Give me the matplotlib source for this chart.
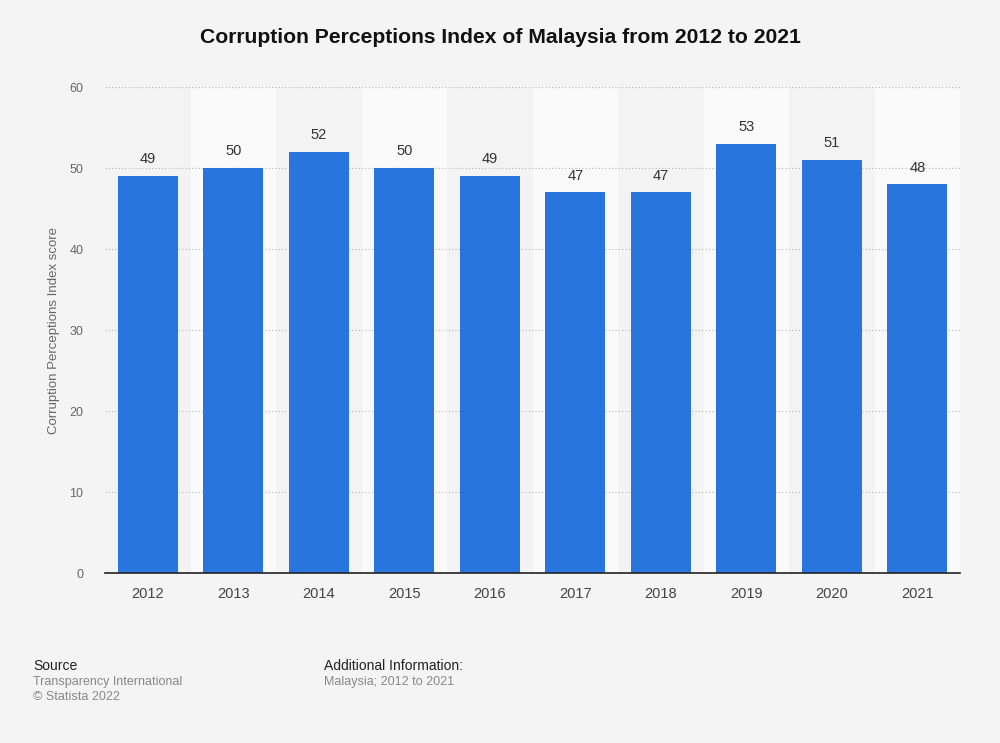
import matplotlib.pyplot as plt

# data
years = ['2012', '2013', '2014', '2015', '2016', '2017', '2018', '2019', '2020', '2021']
scores = [49, 50, 52, 50, 49, 47, 47, 53, 51, 48]
y_ticks = [0, 10, 20, 30, 40, 50, 60]

plt.rcParams['font.family'] = ['Liberation Sans', 'DejaVu Sans']

bg = '#f4f4f4'
fig = plt.figure(figsize=(10, 7.43), dpi=100)
fig.patch.set_facecolor(bg)
ax = fig.add_axes([0.105, 0.2288, 0.855, 0.654])
ax.set_facecolor(bg)

x = list(range(len(years)))

# alternating column bands
for i in x:
    band_col = '#fafafa' if i % 2 == 1 else '#f3f3f3'
    ax.axvspan(i - 0.5, i + 0.5, color=band_col, zorder=0, lw=0)

ax.bar(x, scores, width=0.7, color='#2876dd', zorder=3)

for i, v in zip(x, scores):
    ax.text(i, v + 1.2, str(v), ha='center', va='bottom', fontsize=10.5, color='#333333', zorder=4)

ax.set_xlim(-0.5, len(years) - 0.5)
ax.set_ylim(0, 60)
ax.set_yticks(y_ticks)
ax.set_xticks(x)
ax.set_xticklabels(years)
ax.tick_params(axis='x', length=0, labelsize=10.5, labelcolor='#444444', pad=10)
ax.tick_params(axis='y', length=0, labelsize=9, labelcolor='#666666', pad=15.5)

ax.yaxis.grid(True, linestyle=(0, (1, 2)), color='#b8b8b8', lw=0.8, zorder=1)
for s in ['top', 'right', 'left']:
    ax.spines[s].set_visible(False)
ax.spines['bottom'].set_color('#222222')
ax.spines['bottom'].set_linewidth(1.2)
ax.spines['bottom'].set_zorder(5)

ax.set_ylabel('Corruption Perceptions Index score', fontsize=9.5, color='#666666')
ax.yaxis.set_label_coords(-0.053, 0.5)

fig.text(0.5, 0.950, 'Corruption Perceptions Index of Malaysia from 2012 to 2021',
         ha='center', va='center', fontsize=15.2, fontweight='bold', color='#111111')

# footer
fig.text(0.033, 0.104, 'Source', fontsize=10, color='#222222', va='center')
fig.text(0.033, 0.082, 'Transparency International', fontsize=9, color='#888888', va='center')
fig.text(0.033, 0.062, '\u00a9 Statista 2022', fontsize=9, color='#888888', va='center')
fig.text(0.324, 0.104, 'Additional Information:', fontsize=10, color='#222222', va='center')
fig.text(0.324, 0.082, 'Malaysia; 2012 to 2021', fontsize=9, color='#888888', va='center')

plt.savefig('out.png', facecolor=fig.get_facecolor())
